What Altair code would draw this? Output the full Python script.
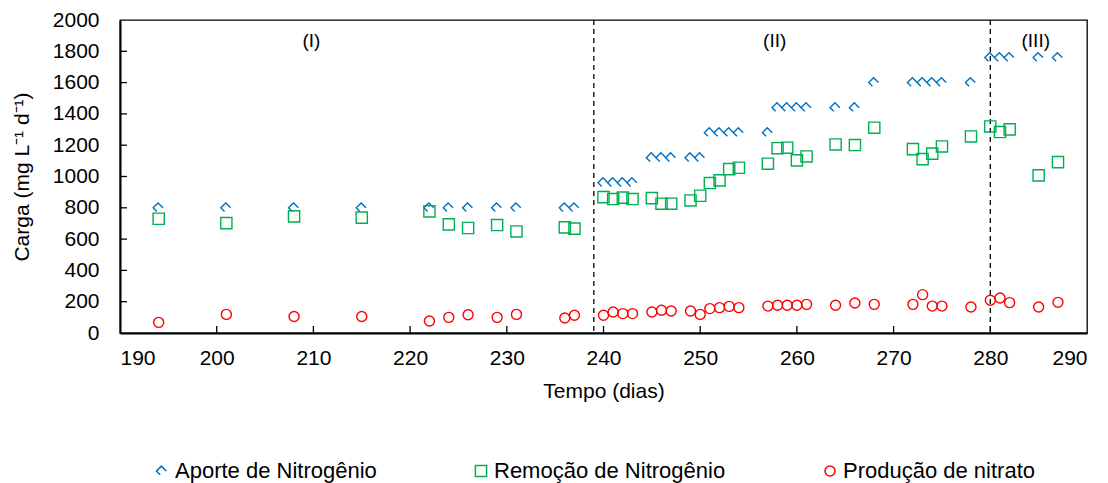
import altair as alt
import pandas as pd

# ---- data ----
dias = [194, 201, 208, 215, 222, 224, 226, 229, 231, 236, 237,
        240, 241, 242, 243, 245, 246, 247, 249, 250,
        251, 252, 253, 254, 257, 258, 259, 260, 261, 264, 266, 268,
        272, 273, 274, 275, 278, 280, 281, 282, 285, 287]

aporte = [800, 800, 800, 800, 800, 800, 800, 800, 800, 800, 800,
          960, 960, 960, 960, 1120, 1120, 1120, 1120, 1120,
          1280, 1280, 1280, 1280, 1280, 1440, 1440, 1440, 1440, 1440, 1440, 1600,
          1600, 1600, 1600, 1600, 1600, 1760, 1760, 1760, 1760, 1760]

remocao = [730, 702, 745, 737, 777, 694, 671, 690, 649, 675, 667,
           868, 856, 865, 856, 862, 826, 826, 847, 877,
           958, 975, 1047, 1056, 1082, 1181, 1184, 1103, 1128, 1205, 1201, 1312,
           1175, 1111, 1146, 1192, 1256, 1320, 1284, 1301, 1007, 1092]

nitrato = [68, 119, 105, 105, 77, 100, 117, 100, 119, 96, 113,
           113, 134, 124, 124, 134, 145, 141, 141, 119,
           156, 162, 170, 162, 172, 177, 177, 177, 183, 177, 192, 183,
           183, 245, 172, 172, 166, 209, 224, 194, 166, 196]

series_names = ["Aporte de Nitrogênio", "Remoção de Nitrogênio", "Produção de nitrato"]
series_colors = ["#0070C0", "#00B050", "#FF0000"]
chevron = "M -0.3 0.6 L -0.9 0 L -0.1 -0.8 L 0.7 0"
series_shapes = [chevron, "square", "circle"]

fase_dias = [239, 280]
fase_labels = ["(I)", "(II)", "(III)"]
fase_label_x = [209.8, 257.7, 284.7]
fase_label_y = [1866, 1866, 1866]

x_ticks = [190, 200, 210, 220, 230, 240, 250, 260, 270, 280, 290]
y_ticks = [0, 200, 400, 600, 800, 1000, 1200, 1400, 1600, 1800, 2000]
x_inner_ticks = x_ticks[1:-1]
y_inner_ticks = y_ticks[1:-1]

# ---- tables ----
rows = []
for name, vals in zip(series_names, [aporte, remocao, nitrato]):
    for d, v in zip(dias, vals):
        rows.append({"dia": d, "carga": v, "serie": name})
df = pd.DataFrame(rows)

FONT = "Liberation Sans"
W, H = 967, 313

xscale = alt.Scale(domain=[190, 290], nice=False)
yscale = alt.Scale(domain=[0, 2000], nice=False)
xaxis = alt.Axis(title="Tempo (dias)", values=x_ticks, ticks=False, format="d",
                 labelOverlap=False, labelPadding=14, titlePadding=12)
yaxis = alt.Axis(title="Carga (mg L⁻¹ d⁻¹)", values=y_ticks, ticks=False, format="d",
                 labelOverlap=False, labelPadding=21, titleX=-98, titleY=H / 2,
                 titleAlign="center", titleBaseline="middle", titleAngle=-90)


def X():
    return alt.X("dia:Q", scale=xscale, axis=xaxis)


def Y():
    return alt.Y("carga:Q", scale=yscale, axis=yaxis)


points = alt.Chart(df).mark_point(filled=False, strokeWidth=1.4, opacity=1).encode(
    x=X(),
    y=Y(),
    color=alt.Color("serie:N", scale=alt.Scale(domain=series_names, range=series_colors),
                    sort=series_names,
                    legend=alt.Legend(title=None, orient="none", legendX=31, legendY=440,
                                      direction="horizontal", columns=3,
                                      columnPadding=93, labelOffset=2, labelLimit=0,
                                      symbolSize=60, symbolStrokeWidth=1.5,
                                      labelFontSize=22, labelFont=FONT,
                                      labelColor="black", padding=0)),
    shape=alt.Shape("serie:N", scale=alt.Scale(domain=series_names, range=series_shapes),
                    sort=series_names, legend=alt.Legend(title=None)),
    size=alt.Size("serie:N", scale=alt.Scale(domain=series_names, range=[150, 100, 95]),
                  legend=None),
)

vl_df = pd.DataFrame({"dia": fase_dias})
vlines = alt.Chart(vl_df).mark_rule(color="black", strokeWidth=1.3, strokeDash=[5, 4]).encode(
    x=X()
)

lab_df = pd.DataFrame({"dia": fase_label_x, "carga": fase_label_y, "txt": fase_labels})
labels = alt.Chart(lab_df).mark_text(fontSize=19, font=FONT, color="black").encode(
    x=X(),
    y=Y(),
    text="txt:N",
)

xt_df = pd.DataFrame({"dia": x_inner_ticks})
xticks = alt.Chart(xt_df).mark_rule(color="black", strokeWidth=1.3).encode(
    x=X(),
    y=alt.value(H),
    y2=alt.value(H - 7),
)

yt_df = pd.DataFrame({"carga": y_inner_ticks})
yticks = alt.Chart(yt_df).mark_rule(color="black", strokeWidth=1.3).encode(
    y=Y(),
    x=alt.value(0),
    x2=alt.value(7),
)

chart = alt.layer(vlines, xticks, yticks, labels, points).properties(
    width=W, height=H,
    autosize=alt.AutoSizeParams(type="none"),
    padding={"left": 120, "top": 20, "right": 21, "bottom": 150},
).configure_view(
    stroke="black", strokeWidth=1.3
).configure_axis(
    labelFont=FONT, titleFont=FONT, labelFontSize=21, titleFontSize=21,
    labelColor="black", titleColor="black", titleFontWeight="normal",
    domainColor="black", domainWidth=2, grid=False,
)

chart.save("out.html", embed_options={"renderer": "svg", "actions": False})
